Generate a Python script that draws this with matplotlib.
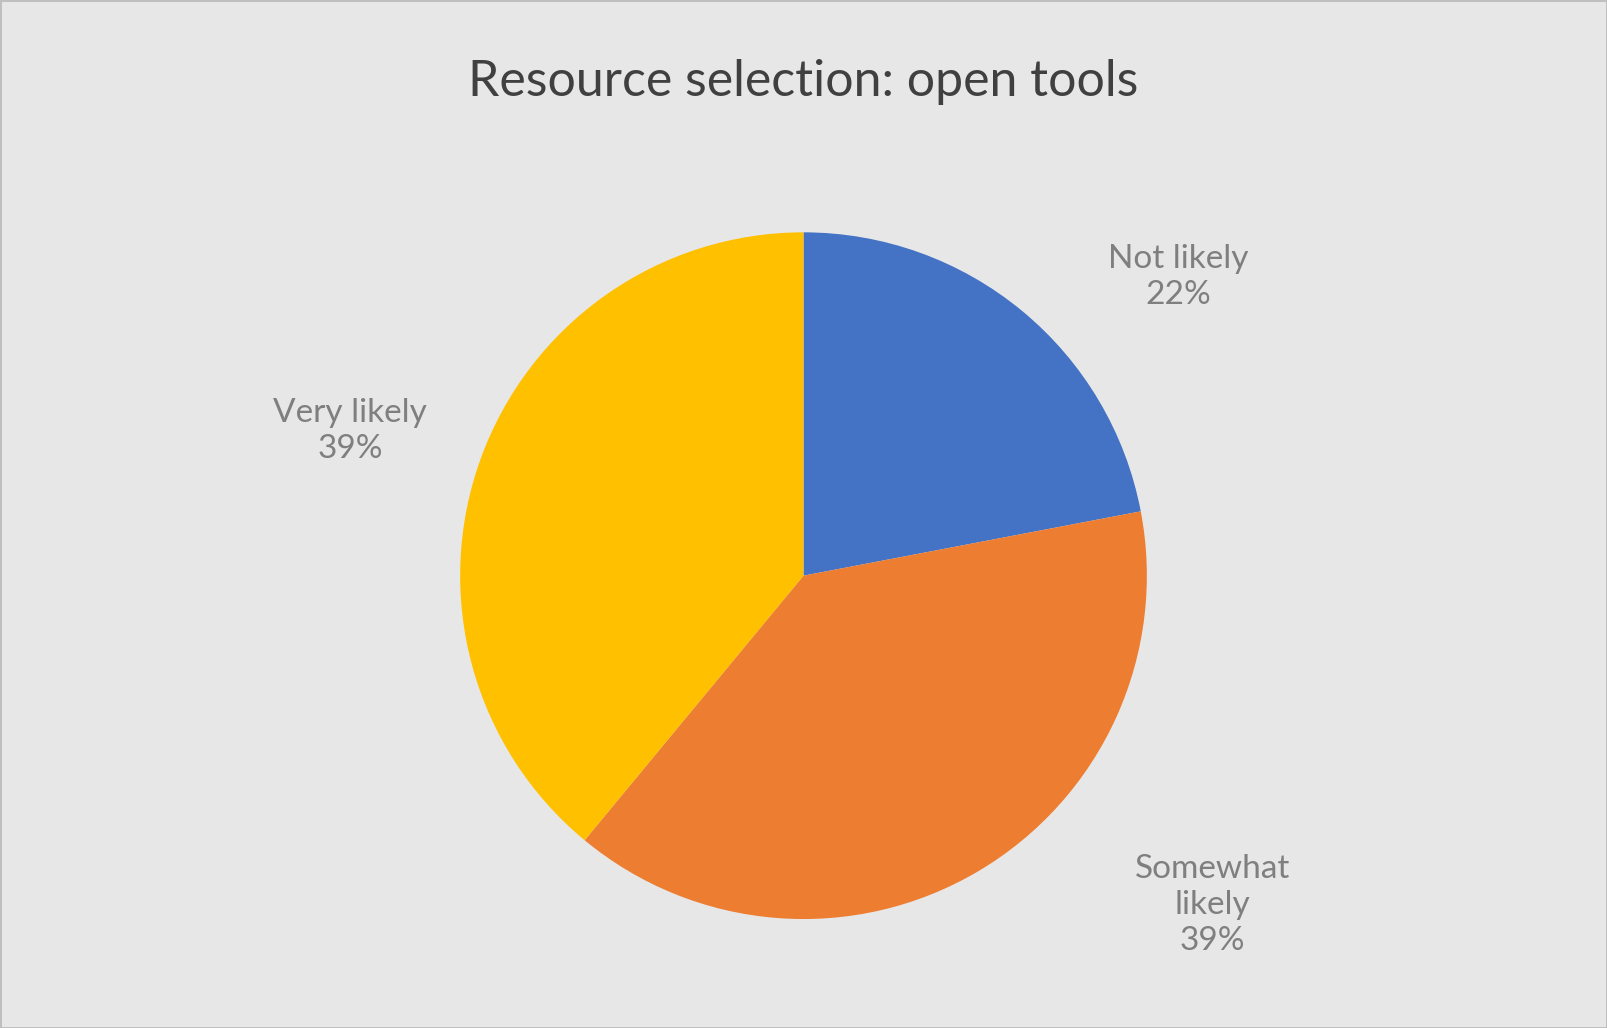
import matplotlib.pyplot as plt

categories = ["Not likely", "Somewhat\nlikely", "Very likely"]
shares = [22, 39, 39]
colors = ["#4472C4", "#ED7D31", "#FFC000"]
# label centres in axes data units (pie radius = 1)
label_pos = [(1.09, 0.87), (1.19, -0.96), (-1.32, 0.42)]

plt.rcParams["font.family"] = ["Lato", "DejaVu Sans"]

W, H = 1607, 1028
fig = plt.figure(figsize=(W / 100, H / 100), dpi=100)
fig.patch.set_facecolor("#E7E7E7")
fig.patch.set_edgecolor("#BFBFBF")
fig.patch.set_linewidth(2)

r_h = 0.334
r_w = r_h * H / W
cx, cy = 0.5, 0.44
ax = fig.add_axes([cx - r_w, cy - r_h, 2 * r_w, 2 * r_h])
ax.pie(shares, colors=colors, startangle=90, counterclock=False,
       wedgeprops=dict(linewidth=0))
ax.set_xlim(-1, 1)
ax.set_ylim(-1, 1)
ax.set_aspect("equal")
ax.axis("off")

for name, val, (x, y) in zip(categories, shares, label_pos):
    ax.text(x, y, f"{name}\n{val}%", ha="center", va="center",
            fontsize=24, color="#7F7F7F", linespacing=1.25, clip_on=False)

fig.text(0.5, 0.92, "Resource selection: open tools", ha="center", va="center",
         fontsize=36, color="#404040")

fig.savefig("out.png", dpi=100, facecolor=fig.get_facecolor(),
         edgecolor=fig.get_edgecolor())
